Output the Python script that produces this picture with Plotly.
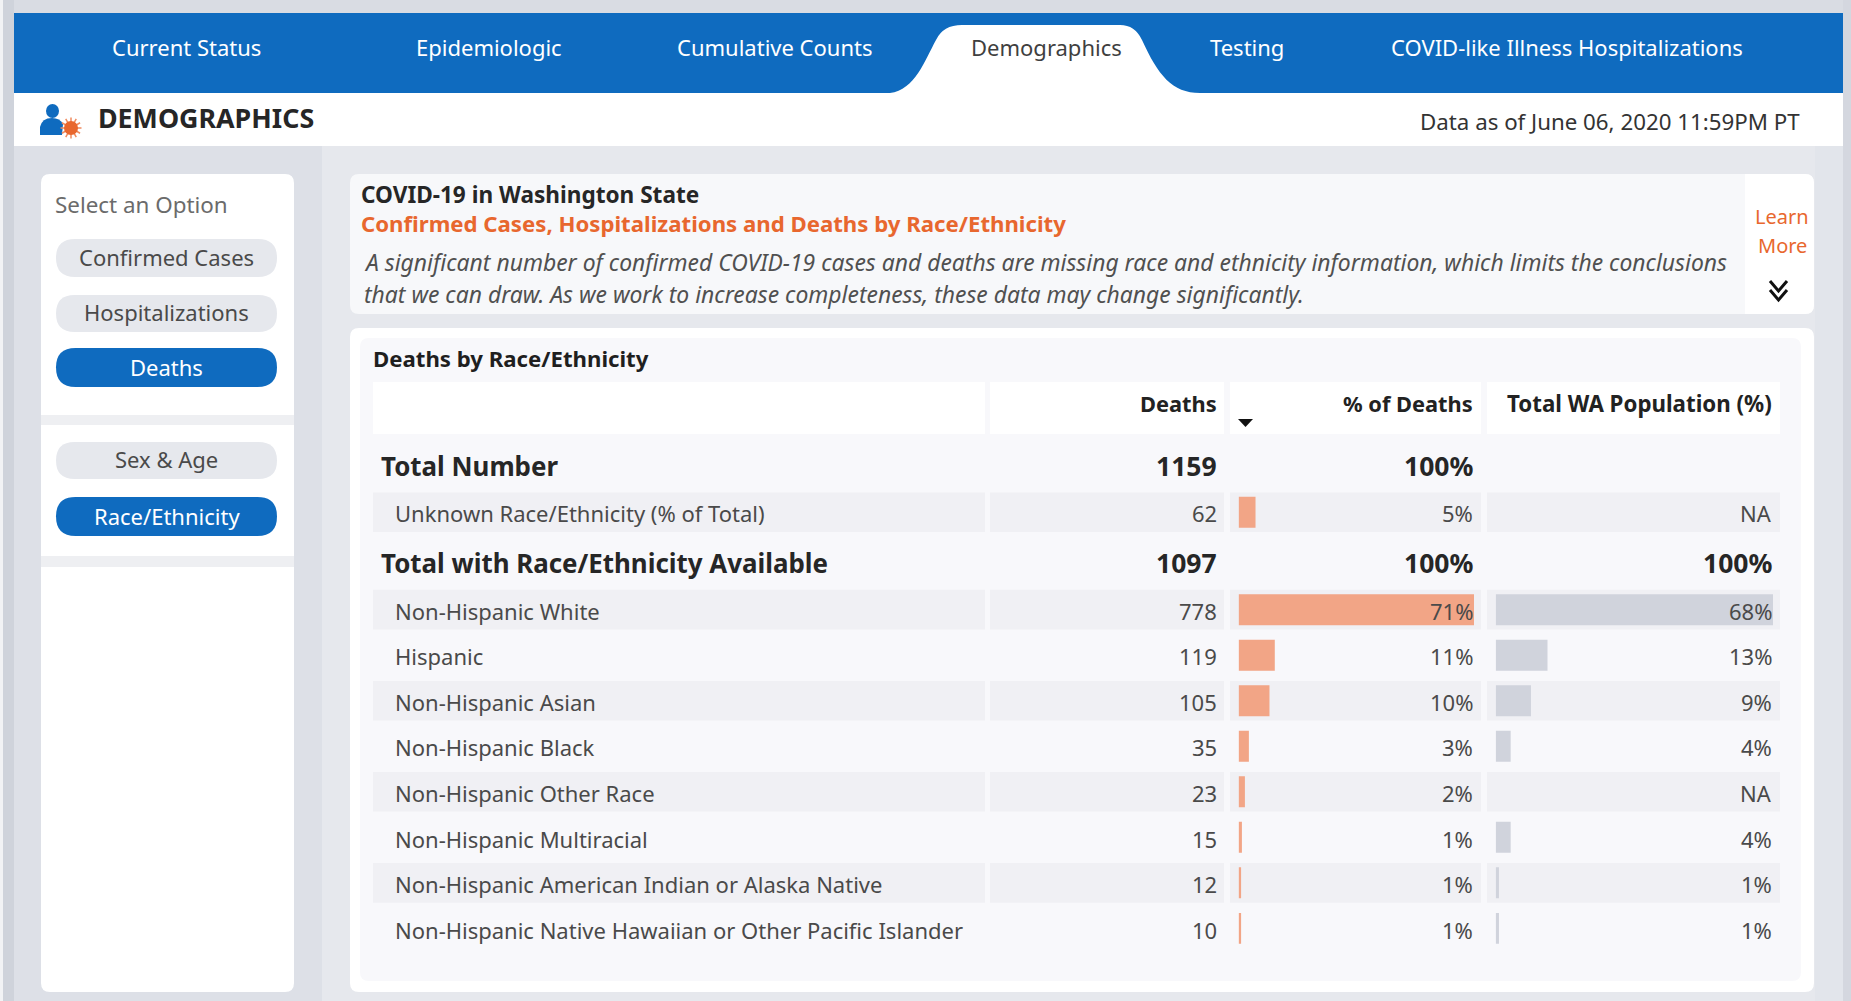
import math
import plotly.graph_objects as go

W, H = 1851, 1001
FONT = "Noto Sans"

# ---------- data ----------
nav_tabs = ["Current Status", "Epidemiologic", "Cumulative Counts", "Demographics", "Testing",
            "COVID-like Illness Hospitalizations"]
races = ["Non-Hispanic White", "Hispanic", "Non-Hispanic Asian", "Non-Hispanic Black",
         "Non-Hispanic Other Race", "Non-Hispanic Multiracial",
         "Non-Hispanic American Indian or Alaska Native",
         "Non-Hispanic Native Hawaiian or Other Pacific Islander"]
deaths = [778, 119, 105, 35, 23, 15, 12, 10]
death_share = [70.9, 10.9, 9.3, 3.1, 1.9, 1.0, 0.75, 0.75]
death_labels = ["71%", "11%", "10%", "3%", "2%", "1%", "1%", "1%"]
pop_share = [68, 12.7, 8.65, 3.67, None, 3.67, 0.8, 0.8]
pop_labels = ["68%", "13%", "9%", "4%", "NA", "4%", "1%", "1%"]
unknown_label = "Unknown Race/Ethnicity (% of Total)"
unknown_deaths = 62
unknown_share = 5.1
unknown_share_label = "5%"
total_all = 1159
total_known = 1097

# ---------- pixel helpers for the page furniture ----------
def px(x): return x / W
def py(y): return 1 - y / H

shapes, notes = [], []

def rect(x0, y0, x1, y1, fill):
    shapes.append(dict(type="rect", xref="paper", yref="paper", x0=px(x0), x1=px(x1),
                       y0=py(y1), y1=py(y0), fillcolor=fill, line_width=0, layer="below"))

def path(cmds, fill=None, stroke=None, width=0):
    out = []
    for c in cmds:
        if isinstance(c, str):
            out.append(c)
        else:
            out.append(f"{px(c[0]):.6f},{py(c[1]):.6f}")
    d = dict(type="path", xref="paper", yref="paper", path=" ".join(out), layer="below",
             line=dict(width=width, color=stroke or "rgba(0,0,0,0)"))
    d["fillcolor"] = fill or "rgba(0,0,0,0)"
    shapes.append(d)

def rrect(x0, y0, x1, y1, r, fill):
    path(["M", (x0 + r, y0), "L", (x1 - r, y0), "Q", (x1, y0), (x1, y0 + r), "L", (x1, y1 - r),
          "Q", (x1, y1), (x1 - r, y1), "L", (x0 + r, y1), "Q", (x0, y1), (x0, y1 - r), "L", (x0, y0 + r),
          "Q", (x0, y0), (x0 + r, y0), "Z"], fill=fill)

def text(x, y, s, size=20, color="#444444", anchor="left", bold=False, italic=False):
    t = f"<b>{s}</b>" if bold else s
    t = f"<i>{t}</i>" if italic else t
    notes.append(dict(xref="paper", yref="paper", x=px(x), y=py(y), text=t, showarrow=False,
                      xanchor=anchor, yanchor="middle", align=anchor,
                      font=dict(family=FONT, size=size, color=color)))

def row_text(x, cat, yaxis, s, size=22, color="#4a4a4a", anchor="right"):
    notes.append(dict(xref="paper", yref=yaxis, x=px(x), y=cat, text=s, showarrow=False,
                      xanchor=anchor, yanchor="middle", yshift=-1.2, align=anchor,
                      font=dict(family=FONT, size=size, color=color)))

BLUE = "#0f6bbf"
ORANGE = "#e8672e"
BAR_O = "#f2a586"
BAR_G = "#d0d3dc"
BAND = "#f0f0f4"

# ---------- page background ----------
rect(0, 0, 3, H, "#f2f3f5")
rect(3, 0, W, 13, "#d9dce3")
rect(3, 0, 14, H, "#cfd3db")
rect(14, 146, 322, H, "#dde0e7")
rect(322, 146, 1843, H, "#e6e8ed")
rect(1815, 146, 1843, H, "#e2e5eb")
rect(1843, 0, W, H, "#d4d7df")

# nav + title band
rect(14, 13, 1843, 93, BLUE)
rect(14, 93, 1843, 146, "#ffffff")
path(["M", (890, 93), "C", (915, 90), (925, 60), (936, 40), "Q", (943, 25), (962, 25), "L", (1120, 25),
      "Q", (1135, 25), (1142, 40), "C", (1158, 75), (1172, 93), (1200, 93), "Z"], fill="#ffffff")

nav_x = [186, 489, 775, 1046, 1247, 1567]
for x, s in zip(nav_x, nav_tabs):
    text(x, 46.5, s, 22, "#3f3f3f" if s == "Demographics" else "#ffffff", "center")

# icon
shapes.append(dict(type="circle", xref="paper", yref="paper", x0=px(46), x1=px(59), y0=py(118), y1=py(104),
                   fillcolor=BLUE, line_width=0, layer="below"))
path(["M", (40, 135), "L", (40, 127), "Q", (42, 118), (52, 118), "Q", (60, 118), (63, 124), "L", (62, 135), "Z"],
     fill=BLUE)
SUN_X, SUN_Y = 71, 128
for k in range(12):
    a = k * math.pi / 6
    path(["M", (SUN_X + 6 * math.cos(a), SUN_Y + 6 * math.sin(a)), "L",
          (SUN_X + 10.5 * math.cos(a), SUN_Y + 10.5 * math.sin(a))], stroke="#ef8a5e", width=1.5)
shapes.append(dict(type="circle", xref="paper", yref="paper", x0=px(SUN_X - 7), x1=px(SUN_X + 7),
                   y0=py(SUN_Y + 7), y1=py(SUN_Y - 7), fillcolor=ORANGE, line_width=0, layer="below"))
text(96, 117.5, "DEMOGRAPHICS", 26.8, "#262626", bold=True)
text(1802, 122, "Data as of June 06, 2020 11:59PM PT", 22.3, "#333333", "right")

# ---------- sidebar ----------
rrect(41, 174, 294, 992, 9, "#ffffff")
rect(41, 415, 294, 425, "#eeeff2")
rect(41, 556, 294, 567, "#eeeff2")
text(53, 204.5, "Select an Option", 22.4, "#6b6b6b")
pills = [("Confirmed Cases", 239, 277, False), ("Hospitalizations", 295, 332, False), ("Deaths", 348, 387, True),
         ("Sex &amp; Age", 442, 479, False), ("Race/Ethnicity", 497, 536, True)]
for s, y0, y1, on in pills:
    rrect(56, y0, 277, y1, (y1 - y0) / 2, BLUE if on else "#e6e8ed")
    text(166.5, (y0 + y1) / 2 - 1, s, 22, "#ffffff" if on else "#4a4a4a", "center")

# ---------- info panel ----------
rrect(350, 174, 1814, 314, 9, "#f7f8fa")
rrect(1745, 174, 1814, 314, 9, "#ffffff")
rect(1745, 174, 1760, 314, "#ffffff")
text(358.5, 195, "COVID-19 in Washington State", 22.6, "#262626", bold=True)
text(358.5, 224, "Confirmed Cases, Hospitalizations and Deaths by Race/Ethnicity", 22.2, ORANGE, bold=True)
text(362, 262, "A significant number of confirmed COVID-19 cases and deaths are missing race and ethnicity "
     "information, which limits the conclusions", 22.9, "#505050", italic=True)
text(362, 294, "that we can draw. As we work to increase completeness, these data may change significantly.",
     22.9, "#505050", italic=True)
text(1782, 216, "Learn", 20, ORANGE, "center")
text(1782, 245, "More", 20, ORANGE, "center")
for yy in (281, 290):
    path(["M", (1770, yy), "L", (1778.5, yy + 10), "L", (1787, yy)], stroke="#111111", width=3)

# ---------- table panel ----------
rrect(350, 328, 1814, 992, 9, "#ffffff")
rrect(360, 338, 1801, 981, 9, "#f8f8fb")
text(371, 358.5, "Deaths by Race/Ethnicity", 22.2, "#1f1f1f", bold=True)

COLS = [(373, 985), (990, 1224), (1230, 1481), (1487, 1780)]
for x0, x1 in COLS:
    rect(x0, 382, x1, 434, "#ffffff")
R_D, R_P, R_T = 1218.5, 1475, 1773.5
text(R_D, 403, "Deaths", 21.8, "#222222", "right", bold=True)
text(R_P, 403, "% of Deaths", 21.8, "#222222", "right", bold=True)
text(R_T, 403, "Total WA Population (%)", 22.3, "#222222", "right", bold=True)
path(["M", (1238, 419), "L", (1253, 419), "L", (1245.5, 427), "Z"], fill="#111111")

BOLD = "#262626"
text(379, 466, "Total Number", 25.9, BOLD, bold=True)
text(R_D, 466, str(total_all), 26.5, BOLD, "right", bold=True)
text(R_P, 466, "100%", 26.5, BOLD, "right", bold=True)
text(379, 562.5, "Total with Race/Ethnicity Available", 25.9, BOLD, bold=True)
text(R_D, 562.5, str(total_known), 26.5, BOLD, "right", bold=True)
text(R_P, 562.5, "100%", 26.5, BOLD, "right", bold=True)
text(R_T, 562.5, "100%", 26.5, BOLD, "right", bold=True)

# geometry of the plotted row axes (page pixels)
ROW_TOP, ROW_STEP = 586.9, 45.53
UNK_TOP = 489.5
BAR_X0, BAR_X1 = 1238.6, 1474
POP_X0, POP_X1 = 1495.7, 1773

for cy in (512.3, ROW_TOP + ROW_STEP * 0.5, ROW_TOP + ROW_STEP * 2.5, ROW_TOP + ROW_STEP * 4.5,
           ROW_TOP + ROW_STEP * 6.5):
    for x0, x1 in COLS:
        rect(x0, cy - 19.8, x1, cy + 19.8, BAND)

LABEL_X = 393
row_text(LABEL_X, unknown_label, "y2", unknown_label, anchor="left")
row_text(R_D, unknown_label, "y2", str(unknown_deaths))
row_text(R_P, unknown_label, "y2", unknown_share_label)
row_text(R_T, unknown_label, "y2", "NA")
for r, d, dl, pl in zip(races, deaths, death_labels, pop_labels):
    row_text(LABEL_X, r, "y", r, anchor="left")
    row_text(R_D, r, "y", str(d))
    row_text(R_P, r, "y", dl)
    row_text(R_T, r, "y", pl)

# ---------- bars ----------
fig = go.Figure()
BW = 0.68
fig.add_trace(go.Bar(y=races, x=death_share, orientation="h", xaxis="x", yaxis="y", width=BW,
                     marker=dict(color=BAR_O, line_width=0), hoverinfo="skip", showlegend=False))
fig.add_trace(go.Bar(y=races, x=pop_share, orientation="h", xaxis="x2", yaxis="y", width=BW,
                     marker=dict(color=BAR_G, line_width=0), hoverinfo="skip", showlegend=False))
fig.add_trace(go.Bar(y=[unknown_label], x=[unknown_share], orientation="h", xaxis="x", yaxis="y2", width=BW,
                     marker=dict(color=BAR_O, line_width=0), hoverinfo="skip", showlegend=False))

hidden = dict(visible=False, showgrid=False, zeroline=False, fixedrange=True)
fig.update_layout(
    width=W, height=H, margin=dict(l=0, r=0, t=0, b=0), autosize=False,
    paper_bgcolor="#e6e8ed", plot_bgcolor="rgba(0,0,0,0)", showlegend=False, barmode="overlay",
    font=dict(family=FONT), shapes=shapes, annotations=notes,
    xaxis=dict(domain=[px(BAR_X0), px(BAR_X1)], range=[0, 70.9], anchor="y", **hidden),
    xaxis2=dict(domain=[px(POP_X0), px(POP_X1)], range=[0, 68], anchor="y", **hidden),
    yaxis=dict(domain=[py(ROW_TOP + ROW_STEP * 8), py(ROW_TOP)], type="category", categoryorder="array",
               categoryarray=races, range=[7.5, -0.5], anchor="x", **hidden),
    yaxis2=dict(domain=[py(UNK_TOP + ROW_STEP), py(UNK_TOP)], type="category", range=[0.5, -0.5], anchor="x",
                **hidden),
)

fig.write_html("out.html", config=dict(displayModeBar=False),
               post_script="document.body.style.margin='0';document.body.style.overflow='hidden';")
